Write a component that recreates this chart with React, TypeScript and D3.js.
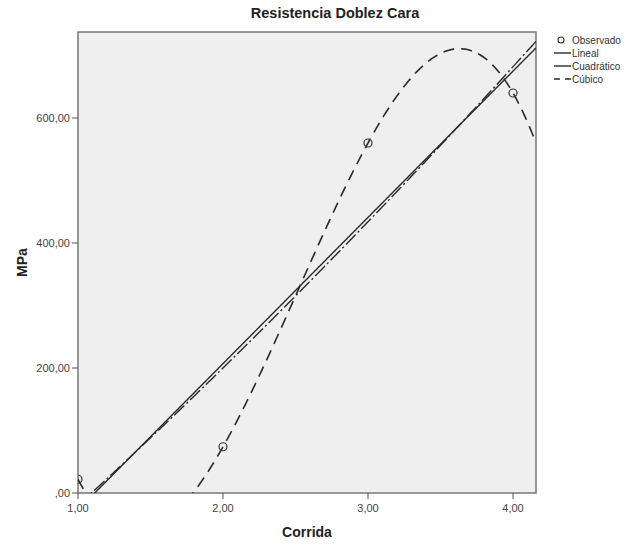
import React from "react";
import * as d3 from "d3";

const runs = [1, 2, 3, 4];
const observed = [22, 74, 560, 640];
const xTicks = [1, 2, 3, 4];
const yTicks = [0, 200, 400, 600];
const legendItems = ["Observado", "Lineal", "Cuadrático", "Cúbico"];

// least squares polynomial fit
function polyFit(xs: number[], ys: number[], deg: number): number[] {
  const n = deg + 1;
  const A: number[][] = [];
  for (let i = 0; i < n; i++) {
    A.push([]);
    for (let j = 0; j < n; j++) A[i].push(d3.sum(xs, (x) => Math.pow(x, i + j)));
    A[i].push(d3.sum(xs, (x, k) => Math.pow(x, i) * ys[k]));
  }
  for (let c = 0; c < n; c++) {
    let p = c;
    for (let r = c + 1; r < n; r++) if (Math.abs(A[r][c]) > Math.abs(A[p][c])) p = r;
    [A[c], A[p]] = [A[p], A[c]];
    for (let r = 0; r < n; r++) {
      if (r === c) continue;
      const f = A[r][c] / A[c][c];
      for (let k = c; k <= n; k++) A[r][k] -= f * A[c][k];
    }
  }
  return A.map((row, i) => row[n] / row[i]);
}
const evalPoly = (co: number[], x: number) => co.reduce((s, c, i) => s + c * Math.pow(x, i), 0);

export default function App() {
  const W = 635, H = 545;
  const m = { left: 78, right: 536, top: 32, bottom: 493 };
  const x = d3.scaleLinear().domain([1, 4]).range([m.left, 513]);
  const y = d3.scaleLinear().domain([0, 600]).range([m.bottom, 118]);
  const xMax = x.invert(m.right);
  const samples = d3.range(0, 401).map((i) => 1 + (i / 400) * (xMax - 1));
  const fits = [1, 2, 3].map((d) => polyFit(runs.map((r) => r - 2.5), observed, d));
  const mkPath = (co: number[]) =>
    d3
      .line<number>()
      .x((v) => x(v))
      .y((v) => y(evalPoly(co, v - 2.5)))(samples) || "";
  const styles = [
    { dash: "none", w: 1.4 },
    { dash: "14,3,2,3", w: 1.4 },
    { dash: "11,7", w: 1.6 },
  ];
  const fmt = (v: number) => (v === 0 ? ",00" : v.toFixed(2).replace(".", ","));
  const font = "Arial, 'Liberation Sans', sans-serif";
  const stroke = "#2a2a2a";
  return (
    <svg width={W} height={H} style={{ position: "absolute", left: 0, top: 0 }} fontFamily={font}>
      <defs>
        <clipPath id="plot">
          <rect x={m.left} y={m.top} width={m.right - m.left} height={m.bottom - m.top} />
        </clipPath>
      </defs>
      <rect width={W} height={H} fill="#fff" />
      <rect x={m.left} y={m.top} width={m.right - m.left} height={m.bottom - m.top} fill="#efefef" stroke="#777" strokeWidth={1.5} />
      <text x={335} y={18} textAnchor="middle" fontSize={14.5} fontWeight="bold" fill="#222">
        Resistencia Doblez Cara
      </text>
      <g clipPath="url(#plot)">
        {fits.map((co, i) => (
          <path key={i} d={mkPath(co)} fill="none" stroke={stroke} strokeWidth={styles[i].w} strokeDasharray={styles[i].dash} />
        ))}
        {runs.map((r, i) => (
          <circle key={i} cx={x(r)} cy={y(observed[i])} r={4} fill="none" stroke="#333" strokeWidth={1.2} />
        ))}
      </g>
      {xTicks.map((t) => (
        <g key={t}>
          <line x1={x(t)} x2={x(t)} y1={m.bottom} y2={m.bottom + 6} stroke="#555" />
          <text x={x(t)} y={m.bottom + 19} textAnchor="middle" fontSize={11} fill="#444">
            {fmt(t)}
          </text>
        </g>
      ))}
      {yTicks.map((t) => (
        <g key={t}>
          <line x1={m.left - 6} x2={m.left} y1={y(t)} y2={y(t)} stroke="#555" />
          <text x={m.left - 8} y={y(t) + 4} textAnchor="end" fontSize={11} fill="#444">
            {fmt(t)}
          </text>
        </g>
      ))}
      <text x={307} y={537} textAnchor="middle" fontSize={14} fontWeight="bold" fill="#222">
        Corrida
      </text>
      <text transform={`translate(27, ${(m.top + m.bottom) / 2}) rotate(-90)`} textAnchor="middle" fontSize={14} fontWeight="bold" fill="#222">
        MPa
      </text>
      <g fontSize={10} fill="#333">
        <circle cx={561} cy={40} r={3} fill="none" stroke="#333" strokeWidth={1.1} />
        <text x={572} y={44}>{legendItems[0]}</text>
        {styles.map((s, i) => (
          <g key={i}>
            <line x1={554} x2={571} y1={53 + i * 13} y2={53 + i * 13} stroke={stroke} strokeWidth={1.4} strokeDasharray={i === 0 ? "none" : i === 1 ? "17" : "6,5"} />
            <text x={572} y={57 + i * 13}>{legendItems[i + 1]}</text>
          </g>
        ))}
      </g>
    </svg>
  );
}
